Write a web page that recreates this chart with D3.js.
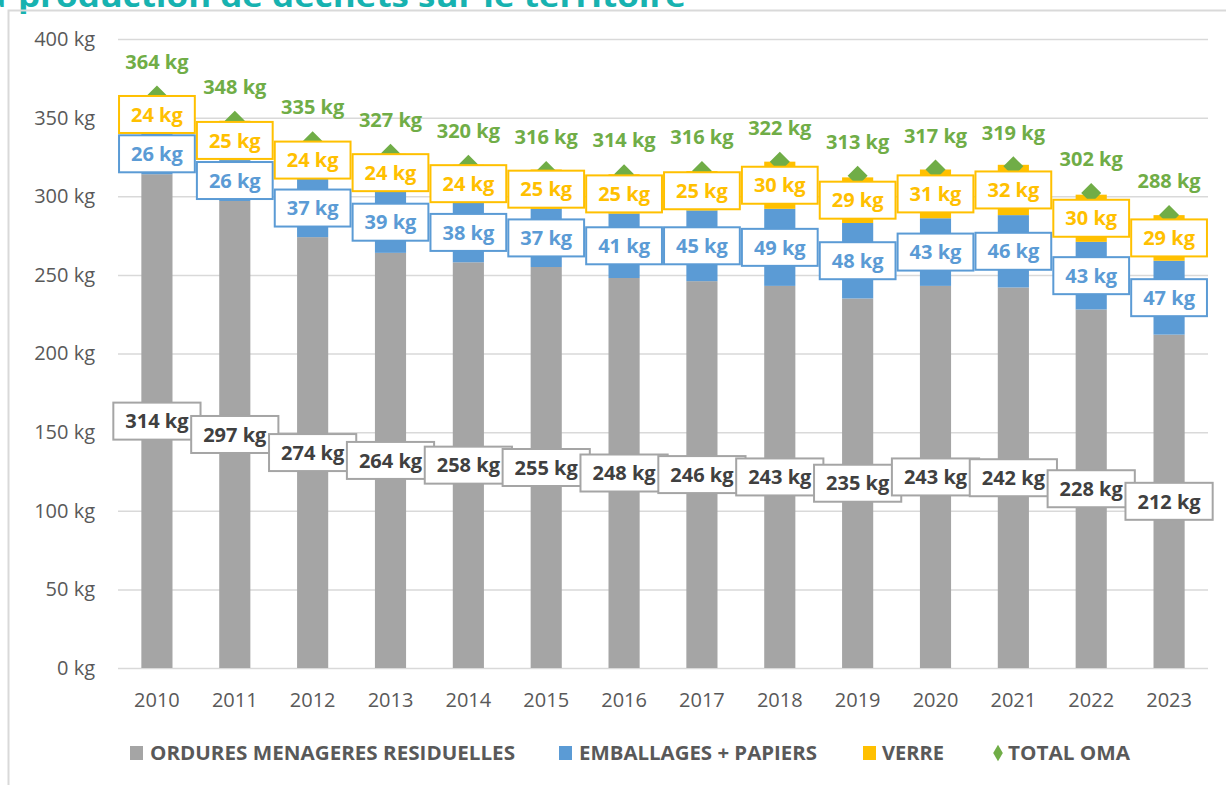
<!DOCTYPE html>
<html>
<head>
<meta charset="utf-8">
<script src="https://cdn.jsdelivr.net/npm/d3@7"></script>
<style>
body { margin: 0; background: #fff; }
svg { display: block; font-family: "Open Sans", sans-serif; }
</style>
</head>
<body>
<script>
var years = ["2010", "2011", "2012", "2013", "2014", "2015", "2016", "2017", "2018", "2019", "2020", "2021", "2022", "2023"];
var omr = [314, 297, 274, 264, 258, 255, 248, 246, 243, 235, 243, 242, 228, 212];
var emballages = [26, 26, 37, 39, 38, 37, 41, 45, 49, 48, 43, 46, 43, 47];
var verre = [24, 25, 24, 24, 24, 25, 25, 25, 30, 29, 31, 32, 30, 29];
var total = [364, 348, 335, 327, 320, 316, 314, 316, 322, 313, 317, 319, 302, 288];
var yTicks = [0, 50, 100, 150, 200, 250, 300, 350, 400];
var legendNames = ["ORDURES MENAGERES RESIDUELLES", "EMBALLAGES + PAPIERS", "VERRE", "TOTAL OMA"];

var Gray = "#a5a5a5", Blue = "#5b9bd5", Orange = "#ffc000", Green = "#70ad47";
var gridColor = "#d9d9d9", textColor = "#595959";

var W = 1226, H = 785;
var svg = d3.select("body").append("svg")
	.attr("width", W)
	.attr("height", H)

// title, cut off by the top of the picture
svg.append("text")
	.attr("x", 6).attr("y", 7)
	.attr("text-anchor", "end")
	.attr("font-size", 30).attr("font-weight", "bold")
	.attr("fill", "#17b2b0")
	.text("la")
svg.append("text")
	.attr("x", 18).attr("y", 7)
	.attr("font-size", 30).attr("font-weight", "bold")
	.attr("fill", "#17b2b0")
	.attr("textLength", 668).attr("lengthAdjust", "spacingAndGlyphs")
	.text("production de déchets sur le territoire")

// chart frame
svg.append("rect")
	.attr("x", 8.5).attr("y", 10.5)
	.attr("width", 1400).attr("height", 1000)
	.attr("fill", "none")
	.attr("stroke", gridColor)
	.attr("stroke-width", 2)

var x = d3.scaleBand().domain(years).range([118, 1208]).paddingInner(0.6).paddingOuter(0.3);
var y = d3.scaleLinear().domain([0, 400]).range([668, 39]);

// y axis + gridlines
var yAxis = svg.append("g")
	.attr("transform", "translate(118,0)")
	.call(d3.axisLeft(y).tickValues(yTicks).tickSize(-1090).tickPadding(23).tickFormat(d => d + " kg"))
yAxis.select(".domain").remove();
yAxis.selectAll("line").attr("stroke", gridColor).attr("stroke-width", 1.5);
yAxis.selectAll("text").attr("font-size", 20).attr("fill", textColor).attr("font-family", "Open Sans");

// x axis
var xAxis = svg.append("g")
	.attr("transform", "translate(0,668)")
	.call(d3.axisBottom(x).tickSize(0).tickPadding(25))
xAxis.select(".domain").remove();
xAxis.selectAll("text").attr("font-size", 20).attr("fill", textColor).attr("font-family", "Open Sans");

// stacked bars
var rows = years.map((yr, i) => ({year: yr, omr: omr[i], emb: emballages[i], verre: verre[i], total: total[i]}));
var keys = ["omr", "emb", "verre"];
var colors = {omr: Gray, emb: Blue, verre: Orange};
var stacked = d3.stack().keys(keys)(rows);

svg.selectAll("g.series").data(stacked).enter()
	.append("g")
	.attr("class", "series")
	.attr("fill", d => colors[d.key])
	.selectAll("rect").data(d => d).enter()
	.append("rect")
	.attr("x", d => x(d.data.year))
	.attr("y", d => y(d[1]))
	.attr("width", x.bandwidth())
	.attr("height", d => y(d[0]) - y(d[1]))

// total markers
svg.selectAll("path.total").data(rows).enter()
	.append("path")
	.attr("class", "total")
	.attr("d", d3.symbol(d3.symbolSquare).size(200))
	.attr("transform", d => "translate(" + (x(d.year) + x.bandwidth() / 2) + "," + y(d.total) + ") rotate(45)")
	.attr("fill", Green)

// boxed data labels, one series after the other
var labelStyle = {
	omr: {stroke: Gray, fill: "#404040"},
	emb: {stroke: Blue, fill: Blue},
	verre: {stroke: Orange, fill: Orange}
};
stacked.forEach(function(s) {
	var st = labelStyle[s.key];
	s.forEach(function(d) {
		var cx = x(d.data.year) + x.bandwidth() / 2;
		var cy = y((d[0] + d[1]) / 2);
		var g = svg.append("g");
		var box = g.append("rect")
			.attr("fill", "#fff")
			.attr("stroke", st.stroke)
			.attr("stroke-width", 2)
		var t = g.append("text")
			.attr("x", cx).attr("y", cy)
			.attr("dy", "0.36em")
			.attr("text-anchor", "middle")
			.attr("font-size", 20).attr("font-weight", "bold")
			.attr("fill", st.fill)
			.text((d[1] - d[0]) + " kg")
		var w = t.node().getComputedTextLength() + 24;
		box.attr("x", cx - w / 2).attr("y", cy - 18.5).attr("width", w).attr("height", 37);
	});
});

// total labels
svg.selectAll("text.totlab").data(rows).enter()
	.append("text")
	.attr("class", "totlab")
	.attr("x", d => x(d.year) + x.bandwidth() / 2)
	.attr("y", d => y(d.total) - 34)
	.attr("dy", "0.36em")
	.attr("text-anchor", "middle")
	.attr("font-size", 20).attr("font-weight", "bold")
	.attr("fill", Green)
	.text(d => d.total + " kg")

// legend
var legendX = [130, 559, 863, 993];
var legendTextX = [150, 579, 882, 1008];
var legendW = [365, 238, 62, 122];
var legendColors = [Gray, Blue, Orange, Green];
var legend = svg.append("g");
legendNames.forEach(function(name, i) {
	if (i < 3) {
		legend.append("rect")
			.attr("x", legendX[i]).attr("y", 746)
			.attr("width", 13).attr("height", 14)
			.attr("fill", legendColors[i])
	} else {
		legend.append("path")
			.attr("d", d3.symbol(d3.symbolDiamond).size(80))
			.attr("transform", "translate(" + (legendX[i] + 5) + ",753)")
			.attr("fill", legendColors[i])
	}
	legend.append("text")
		.attr("x", legendTextX[i]).attr("y", 760)
		.attr("font-size", 19).attr("font-weight", "bold")
		.attr("fill", textColor)
		.attr("textLength", legendW[i]).attr("lengthAdjust", "spacingAndGlyphs")
		.text(name)
});
</script>
</body>
</html>
